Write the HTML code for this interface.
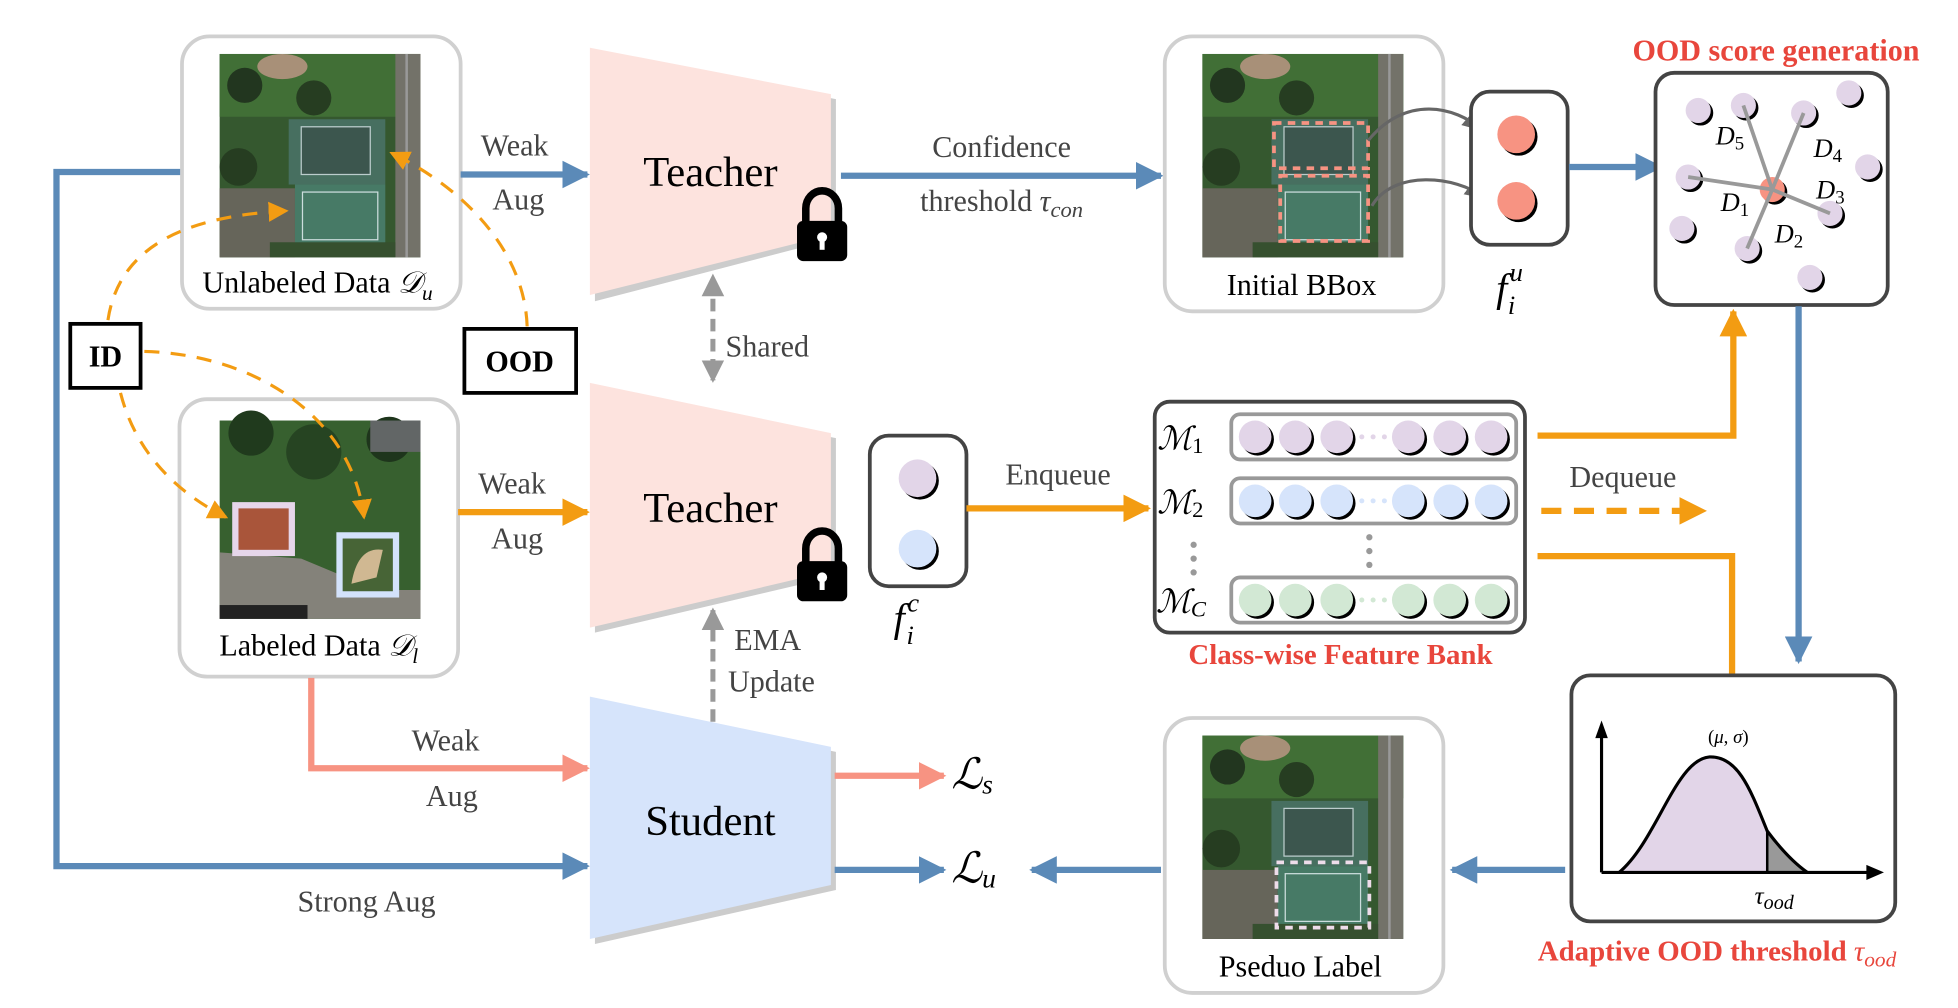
<!DOCTYPE html>
<html><head><meta charset="utf-8"><style>
html,body{margin:0;padding:0;background:#fff;width:1958px;height:1008px;overflow:hidden}
svg{display:block}
text{font-family:"Liberation Serif",serif}
</style></head><body>
<svg width="1958" height="1008" viewBox="0 0 1560 803" preserveAspectRatio="none" xmlns="http://www.w3.org/2000/svg">
<defs>
<marker id="mB" markerUnits="userSpaceOnUse" markerWidth="22" markerHeight="22" refX="20" refY="11" orient="auto"><path d="M0,0 L22,11 L0,22 Z" fill="#5b8ab8"/></marker>
<marker id="mO" markerUnits="userSpaceOnUse" markerWidth="22" markerHeight="22" refX="20" refY="11" orient="auto"><path d="M0,0 L22,11 L0,22 Z" fill="#f39c12"/></marker>
<marker id="mS" markerUnits="userSpaceOnUse" markerWidth="22" markerHeight="22" refX="20" refY="11" orient="auto"><path d="M0,0 L22,11 L0,22 Z" fill="#f79382"/></marker>
<marker id="mG" markerUnits="userSpaceOnUse" markerWidth="18" markerHeight="18" refX="16" refY="9" orient="auto"><path d="M0,0 L18,9 L0,18 Z" fill="#999"/></marker>
<marker id="mO2" markerUnits="userSpaceOnUse" markerWidth="16" markerHeight="16" refX="14" refY="8" orient="auto"><path d="M0,0 L16,8 L0,16 Z" fill="#f39c12"/></marker>
<marker id="mD" markerUnits="userSpaceOnUse" markerWidth="16" markerHeight="16" refX="14" refY="8" orient="auto"><path d="M0,0 L16,8 L0,16 Z" fill="#666"/></marker>
<g id="img1">
<rect x="0" y="0" width="160" height="162" fill="#35582f"/>
<rect x="0" y="0" width="160" height="50" fill="#416f36"/>
<ellipse cx="50" cy="10" rx="20" ry="10" fill="#a89078"/>
<circle cx="20" cy="25" r="14" fill="#22361f"/><circle cx="75" cy="35" r="14" fill="#263d21"/><circle cx="15" cy="90" r="15" fill="#263d21"/>
<rect x="0" y="107" width="60" height="55" fill="#66655a"/>
<rect x="140" y="0" width="20" height="162" fill="#737269"/>
<rect x="148" y="0" width="2" height="162" fill="#999"/>
<rect x="55" y="52" width="77" height="52" fill="#476f60"/>
<rect x="65" y="58" width="55" height="38" fill="#3c564e" stroke="#bcc" stroke-width="1"/>
<rect x="60" y="104" width="72" height="50" fill="#477a66"/>
<rect x="66" y="110" width="60" height="38" fill="none" stroke="#cdd" stroke-width="1"/>
<rect x="40" y="150" width="100" height="12" fill="#36502f"/>
</g>
</defs>

<polyline points="148,137 45,137 45,690 468,690" fill="none" stroke="#5b8ab8" stroke-width="5" marker-end="url(#mB)"/>

<rect x="145" y="29" width="222" height="217" rx="22" fill="#fff" stroke="#d0d0d0" stroke-width="3"/>
<use href="#img1" x="175" y="43"/>
<text x="253" y="233" font-size="24" text-anchor="middle">Unlabeled Data <tspan font-style="italic">𝒟</tspan><tspan font-style="italic" font-size="17" dy="6">u</tspan></text>

<rect x="143" y="318" width="222" height="221" rx="22" fill="#fff" stroke="#d0d0d0" stroke-width="3"/>
<rect x="175" y="335" width="160" height="158" fill="#37602f"/>
<circle cx="200" cy="345" r="18" fill="#203a1d"/><circle cx="250" cy="360" r="22" fill="#264422"/><circle cx="310" cy="350" r="18" fill="#1e351c"/>
<rect x="295" y="335" width="40" height="25" fill="#626666"/>
<path d="M175,440 L240,445 L300,470 L335,470 L335,493 L175,493 Z" fill="#84827a"/>
<rect x="185" y="400" width="50" height="43" fill="#e6d6ea"/><rect x="190" y="405" width="40" height="33" fill="#a9553a"/>
<rect x="268" y="424" width="50" height="52" fill="#d3e2fb"/><rect x="273" y="429" width="40" height="42" fill="#476436"/><path d="M280,465 Q285,435 305,438 L300,460 Z" fill="#d0b892"/>
<rect x="175" y="482" width="70" height="11" fill="#222"/>
<text x="254" y="522" font-size="24" text-anchor="middle">Labeled Data <tspan font-style="italic">𝒟</tspan><tspan font-style="italic" font-size="17" dy="6">l</tspan></text>

<rect x="56" y="258" width="56" height="51" fill="#fff" stroke="#000" stroke-width="3"/>
<text x="84" y="292" font-size="24" font-weight="bold" text-anchor="middle">ID</text>
<rect x="370" y="262" width="89" height="51" fill="#fff" stroke="#000" stroke-width="3"/>
<text x="414" y="296" font-size="24" font-weight="bold" text-anchor="middle">OOD</text>
<g fill="none" stroke="#f39c12" stroke-width="2.5" stroke-dasharray="12 9">
<path d="M86,255 C 95,195 150,172 228,168" marker-end="url(#mO2)"/>
<path d="M115,280 C 200,282 280,330 290,412" marker-end="url(#mO2)"/>
<path d="M96,313 C 108,360 140,392 180,412" marker-end="url(#mO2)"/>
<path d="M420,260 C 418,200 370,150 312,122" marker-end="url(#mO2)"/>
</g>

<line x1="367" y1="139" x2="468" y2="139" stroke="#5b8ab8" stroke-width="5" marker-end="url(#mB)"/>
<text x="410" y="124" font-size="24" fill="#444" text-anchor="middle">Weak</text>
<text x="413" y="167" font-size="24" fill="#444" text-anchor="middle">Aug</text>
<line x1="365" y1="408" x2="468" y2="408" stroke="#f39c12" stroke-width="5" marker-end="url(#mO)"/>
<text x="408" y="393" font-size="24" fill="#444" text-anchor="middle">Weak</text>
<text x="412" y="437" font-size="24" fill="#444" text-anchor="middle">Aug</text>
<polyline points="248,540 248,612 468,612" fill="none" stroke="#f79382" stroke-width="5" marker-end="url(#mS)"/>
<text x="355" y="598" font-size="24" fill="#444" text-anchor="middle">Weak</text>
<text x="360" y="642" font-size="24" fill="#444" text-anchor="middle">Aug</text>
<text x="292" y="726" font-size="24" fill="#444" text-anchor="middle">Strong Aug</text>

<path d="M474,42 L666,79 L666,190 L474,240 Z" fill="#ccc"/>
<path d="M470,38 L662,75 L662,187 L470,235 Z" fill="#fde3de"/>
<text x="566" y="148" font-size="34" text-anchor="middle">Teacher</text>
<path d="M474,309 L666,349 L666,459 L474,504 Z" fill="#ccc"/>
<path d="M470,305 L662,345 L662,455 L470,500 Z" fill="#fde3de"/>
<text x="566" y="416" font-size="34" text-anchor="middle">Teacher</text>
<path d="M474,559 L666,599 L666,709 L474,752 Z" fill="#ccc"/>
<path d="M470,555 L662,595 L662,705 L470,748 Z" fill="#d6e4fb"/>
<text x="566" y="665" font-size="34" text-anchor="middle">Student</text>

<g>
<path d="M642,178 L642,166 A13,14 0 0 1 668,166 L668,178" fill="none" stroke="#000" stroke-width="6"/>
<rect x="635" y="176" width="40" height="32" rx="5" fill="#000"/>
<circle cx="655" cy="189" r="4" fill="#fff"/><rect x="653" y="189" width="4" height="10" fill="#fff"/>
</g>
<g transform="translate(0,271)">
<path d="M642,178 L642,166 A13,14 0 0 1 668,166 L668,178" fill="none" stroke="#000" stroke-width="6"/>
<rect x="635" y="176" width="40" height="32" rx="5" fill="#000"/>
<circle cx="655" cy="189" r="4" fill="#fff"/><rect x="653" y="189" width="4" height="10" fill="#fff"/>
</g>

<line x1="568" y1="238" x2="568" y2="303" stroke="#999" stroke-width="4" stroke-dasharray="10 6" marker-end="url(#mG)"/>
<path d="M559,236 L568,218 L577,236 Z" fill="#999"/>
<text x="578" y="284" font-size="24" fill="#444">Shared</text>
<line x1="568" y1="575" x2="568" y2="486" stroke="#999" stroke-width="4" stroke-dasharray="10 6" marker-end="url(#mG)"/>
<text x="585" y="518" font-size="24" fill="#444">EMA</text>
<text x="580" y="551" font-size="24" fill="#444">Update</text>

<line x1="665" y1="618" x2="752" y2="618" stroke="#f79382" stroke-width="5" marker-end="url(#mS)"/>
<text x="758" y="628" font-size="34" font-style="italic">ℒ<tspan font-size="22" dy="4">s</tspan></text>
<line x1="665" y1="693" x2="752" y2="693" stroke="#5b8ab8" stroke-width="5" marker-end="url(#mB)"/>
<text x="758" y="703" font-size="34" font-style="italic">ℒ<tspan font-size="22" dy="4">u</tspan></text>
<line x1="925" y1="693" x2="822" y2="693" stroke="#5b8ab8" stroke-width="5" marker-end="url(#mB)"/>

<line x1="670" y1="140" x2="925" y2="140" stroke="#5b8ab8" stroke-width="5" marker-end="url(#mB)"/>
<text x="798" y="125" font-size="24" fill="#444" text-anchor="middle">Confidence</text>
<text x="798" y="168" font-size="24" fill="#444" text-anchor="middle">threshold <tspan font-style="italic">τ</tspan><tspan font-style="italic" font-size="18" dy="5">con</tspan></text>

<rect x="928" y="29" width="222" height="219" rx="22" fill="#fff" stroke="#d0d0d0" stroke-width="3"/>
<use href="#img1" x="958" y="43"/>
<rect x="1015" y="98" width="75" height="36" fill="none" stroke="#f79382" stroke-width="3" stroke-dasharray="6 5"/>
<rect x="1020" y="140" width="70" height="52" fill="none" stroke="#f79382" stroke-width="3" stroke-dasharray="6 5"/>
<text x="1037" y="235" font-size="24" text-anchor="middle">Initial BBox</text>
<path d="M1090,112 C 1120,75 1160,85 1180,103" fill="none" stroke="#666" stroke-width="2.5" marker-end="url(#mD)"/>
<path d="M1093,164 C 1110,135 1160,140 1182,157" fill="none" stroke="#666" stroke-width="2.5" marker-end="url(#mD)"/>

<rect x="1172" y="73" width="77" height="122" rx="15" fill="#fff" stroke="#444" stroke-width="3"/>
<circle cx="1210" cy="109" r="15" fill="#000"/><circle cx="1208" cy="107" r="15" fill="#f79382"/>
<circle cx="1210" cy="162" r="15" fill="#000"/><circle cx="1208" cy="160" r="15" fill="#f79382"/>
<text x="1192" y="240" font-size="32" font-style="italic">f<tspan font-size="21" dx="2" dy="-16">u</tspan><tspan font-size="21" dx="-12" dy="26">i</tspan></text>
<line x1="1250" y1="133" x2="1323" y2="133" stroke="#5b8ab8" stroke-width="5" marker-end="url(#mB)"/>

<text x="1415" y="48" font-size="24" font-weight="bold" fill="#e8463c" text-anchor="middle">OOD score generation</text>
<rect x="1319" y="58" width="185" height="185" rx="15" fill="#fff" stroke="#444" stroke-width="3"/>
<g fill="#e2d5e8">
<circle cx="1355" cy="90" r="10" fill="#000"/><circle cx="1353" cy="88" r="10"/>
<circle cx="1391" cy="86" r="10" fill="#000"/><circle cx="1389" cy="84" r="10"/>
<circle cx="1439" cy="92" r="10" fill="#000"/><circle cx="1437" cy="90" r="10"/>
<circle cx="1475" cy="76" r="10" fill="#000"/><circle cx="1473" cy="74" r="10"/>
<circle cx="1347" cy="143" r="10" fill="#000"/><circle cx="1345" cy="141" r="10"/>
<circle cx="1490" cy="135" r="10" fill="#000"/><circle cx="1488" cy="133" r="10"/>
<circle cx="1342" cy="184" r="10" fill="#000"/><circle cx="1340" cy="182" r="10"/>
<circle cx="1394" cy="200" r="10" fill="#000"/><circle cx="1392" cy="198" r="10"/>
<circle cx="1460" cy="172" r="10" fill="#000"/><circle cx="1458" cy="170" r="10"/>
<circle cx="1444" cy="223" r="10" fill="#000"/><circle cx="1442" cy="221" r="10"/>
</g>
<circle cx="1414" cy="153" r="10" fill="#000"/><circle cx="1412" cy="151" r="10" fill="#f79382"/>
<g stroke="#999" stroke-width="3">
<line x1="1412" y1="151" x2="1389" y2="84"/><line x1="1412" y1="151" x2="1437" y2="90"/>
<line x1="1412" y1="151" x2="1345" y2="141"/><line x1="1412" y1="151" x2="1458" y2="170"/>
<line x1="1412" y1="151" x2="1392" y2="198"/>
</g>
<g font-size="21" font-style="italic">
<text x="1367" y="115">D<tspan font-style="normal" font-size="15" dy="4">5</tspan></text>
<text x="1445" y="125">D<tspan font-style="normal" font-size="15" dy="4">4</tspan></text>
<text x="1447" y="158">D<tspan font-style="normal" font-size="15" dy="4">3</tspan></text>
<text x="1371" y="168">D<tspan font-style="normal" font-size="15" dy="4">1</tspan></text>
<text x="1414" y="193">D<tspan font-style="normal" font-size="15" dy="4">2</tspan></text>
</g>
<line x1="1433" y1="244" x2="1433" y2="527" stroke="#5b8ab8" stroke-width="5" marker-end="url(#mB)"/>

<rect x="693" y="347" width="77" height="120" rx="15" fill="#fff" stroke="#444" stroke-width="3"/>
<circle cx="733" cy="383" r="15" fill="#000"/><circle cx="731" cy="381" r="15" fill="#e2d5e8"/>
<circle cx="733" cy="439" r="15" fill="#000"/><circle cx="731" cy="437" r="15" fill="#d6e4fb"/>
<text x="712" y="503" font-size="32" font-style="italic">f<tspan font-size="21" dx="2" dy="-16">c</tspan><tspan font-size="21" dx="-10" dy="26">i</tspan></text>
<line x1="770" y1="405" x2="915" y2="405" stroke="#f39c12" stroke-width="5" marker-end="url(#mO)"/>
<text x="843" y="386" font-size="24" fill="#444" text-anchor="middle">Enqueue</text>

<rect x="920" y="320" width="295" height="184" rx="12" fill="#fff" stroke="#444" stroke-width="3"/>
<g fill="none" stroke="#999" stroke-width="3">
<rect x="981" y="330" width="227" height="36" rx="7"/>
<rect x="981" y="381" width="227" height="36" rx="7"/>
<rect x="981" y="460" width="227" height="36" rx="7"/>
</g>
<g font-size="26" font-style="italic">
<text x="922" y="358">ℳ<tspan font-style="normal" font-size="18" dy="3">1</tspan></text>
<text x="922" y="409">ℳ<tspan font-style="normal" font-size="18" dy="3">2</tspan></text>
<text x="921" y="488">ℳ<tspan font-size="18" dy="3">C</tspan></text>
</g>
<g>
<circle cx="1002" cy="350" r="13" fill="#000"/><circle cx="1000" cy="348" r="13" fill="#e2d5e8"/>
<circle cx="1034" cy="350" r="13" fill="#000"/><circle cx="1032" cy="348" r="13" fill="#e2d5e8"/>
<circle cx="1067" cy="350" r="13" fill="#000"/><circle cx="1065" cy="348" r="13" fill="#e2d5e8"/>
<circle cx="1124" cy="350" r="13" fill="#000"/><circle cx="1122" cy="348" r="13" fill="#e2d5e8"/>
<circle cx="1157" cy="350" r="13" fill="#000"/><circle cx="1155" cy="348" r="13" fill="#e2d5e8"/>
<circle cx="1190" cy="350" r="13" fill="#000"/><circle cx="1188" cy="348" r="13" fill="#e2d5e8"/>
<circle cx="1085" cy="348" r="2" fill="#e2d5e8"/><circle cx="1094" cy="348" r="2" fill="#e2d5e8"/><circle cx="1103" cy="348" r="2" fill="#e2d5e8"/>
</g>
<g>
<circle cx="1002" cy="401" r="13" fill="#000"/><circle cx="1000" cy="399" r="13" fill="#d6e4fb"/>
<circle cx="1034" cy="401" r="13" fill="#000"/><circle cx="1032" cy="399" r="13" fill="#d6e4fb"/>
<circle cx="1067" cy="401" r="13" fill="#000"/><circle cx="1065" cy="399" r="13" fill="#d6e4fb"/>
<circle cx="1124" cy="401" r="13" fill="#000"/><circle cx="1122" cy="399" r="13" fill="#d6e4fb"/>
<circle cx="1157" cy="401" r="13" fill="#000"/><circle cx="1155" cy="399" r="13" fill="#d6e4fb"/>
<circle cx="1190" cy="401" r="13" fill="#000"/><circle cx="1188" cy="399" r="13" fill="#d6e4fb"/>
<circle cx="1085" cy="399" r="2" fill="#d6e4fb"/><circle cx="1094" cy="399" r="2" fill="#d6e4fb"/><circle cx="1103" cy="399" r="2" fill="#d6e4fb"/>
</g>
<g>
<circle cx="1002" cy="480" r="13" fill="#000"/><circle cx="1000" cy="478" r="13" fill="#d2e8d4"/>
<circle cx="1034" cy="480" r="13" fill="#000"/><circle cx="1032" cy="478" r="13" fill="#d2e8d4"/>
<circle cx="1067" cy="480" r="13" fill="#000"/><circle cx="1065" cy="478" r="13" fill="#d2e8d4"/>
<circle cx="1124" cy="480" r="13" fill="#000"/><circle cx="1122" cy="478" r="13" fill="#d2e8d4"/>
<circle cx="1157" cy="480" r="13" fill="#000"/><circle cx="1155" cy="478" r="13" fill="#d2e8d4"/>
<circle cx="1190" cy="480" r="13" fill="#000"/><circle cx="1188" cy="478" r="13" fill="#d2e8d4"/>
<circle cx="1085" cy="478" r="2" fill="#d2e8d4"/><circle cx="1094" cy="478" r="2" fill="#d2e8d4"/><circle cx="1103" cy="478" r="2" fill="#d2e8d4"/>
</g>
<g fill="#999">
<circle cx="951" cy="434" r="2.5"/><circle cx="951" cy="445" r="2.5"/><circle cx="951" cy="456" r="2.5"/>
<circle cx="1091" cy="428" r="2.5"/><circle cx="1091" cy="439" r="2.5"/><circle cx="1091" cy="450" r="2.5"/>
</g>
<text x="1068" y="529" font-size="23" font-weight="bold" fill="#e8463c" text-anchor="middle">Class-wise Feature Bank</text>

<polyline points="1225,347 1381,347 1381,248" fill="none" stroke="#f39c12" stroke-width="5" marker-end="url(#mO)"/>
<polyline points="1225,443 1380,443 1380,565" fill="none" stroke="#f39c12" stroke-width="5" marker-end="url(#mO)"/>
<line x1="1228" y1="407" x2="1358" y2="407" stroke="#f39c12" stroke-width="5" stroke-dasharray="16 10" marker-end="url(#mO)"/>
<text x="1293" y="388" font-size="24" fill="#444" text-anchor="middle">Dequeue</text>

<rect x="1252" y="538" width="258" height="196" rx="15" fill="#fff" stroke="#444" stroke-width="3"/>
<path d="M1290,695 C 1320,670 1335,605 1362,603 C 1385,602 1395,630 1408,662 L1408,695 Z" fill="#e2d5e8"/>
<path d="M1408,662 C 1420,678 1430,688 1440,695 L1408,695 Z" fill="#999"/>
<path d="M1290,695 C 1320,670 1335,605 1362,603 C 1385,602 1395,630 1408,662 C 1420,678 1430,688 1440,695" fill="none" stroke="#000" stroke-width="2.5"/>
<line x1="1408" y1="662" x2="1408" y2="695" stroke="#000" stroke-width="2"/>
<line x1="1276" y1="695" x2="1276" y2="585" stroke="#000" stroke-width="2.5"/>
<path d="M1271,588 L1276,574 L1281,588 Z" fill="#000"/>
<line x1="1276" y1="695" x2="1490" y2="695" stroke="#000" stroke-width="2.5"/>
<path d="M1487,689 L1501,695 L1487,701 Z" fill="#000"/>
<text x="1377" y="592" font-size="15" text-anchor="middle">(<tspan font-style="italic">μ</tspan>, <tspan font-style="italic">σ</tspan>)</text>
<text x="1398" y="720" font-size="20" font-style="italic">τ<tspan font-size="16" dy="4">ood</tspan></text>
<text x="1368" y="765" font-size="23" font-weight="bold" fill="#e8463c" text-anchor="middle">Adaptive OOD threshold <tspan font-style="italic" font-weight="normal">τ</tspan><tspan font-style="italic" font-weight="normal" font-size="17" dy="5">ood</tspan></text>
<line x1="1247" y1="693" x2="1157" y2="693" stroke="#5b8ab8" stroke-width="5" marker-end="url(#mB)"/>

<rect x="928" y="572" width="222" height="219" rx="22" fill="#fff" stroke="#d0d0d0" stroke-width="3"/>
<use href="#img1" x="958" y="586"/>
<rect x="1017" y="687" width="74" height="52" fill="none" stroke="#eedcea" stroke-width="3" stroke-dasharray="6 5"/>
<text x="1036" y="778" font-size="24" text-anchor="middle">Pseduo Label</text>
</svg>
</body></html>
